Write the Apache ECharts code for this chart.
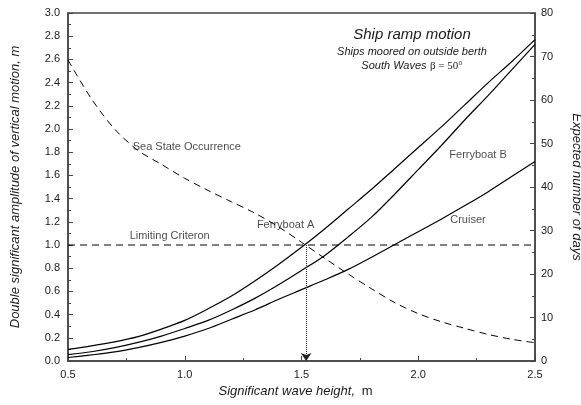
<!DOCTYPE html>
<html>
<head>
<meta charset="utf-8">
<script src="https://cdn.jsdelivr.net/npm/echarts@6/dist/echarts.min.js"></script>
<style>
  html, body { margin: 0; padding: 0; background: #fff; }
  #chart { width: 581px; height: 405px; }
</style>
</head>
<body>
<div id="chart"></div>
<script>
// significant wave height, m
const waveHeight = [0.5, 0.6, 0.7, 0.8, 0.9, 1.0, 1.1, 1.2, 1.3, 1.4, 1.5,
  1.6, 1.7, 1.8, 1.9, 2.0, 2.1, 2.2, 2.3, 2.4, 2.5];

// double significant amplitude of vertical motion, m
const ferryboatA = [0.10, 0.13, 0.165, 0.21, 0.275, 0.35, 0.45, 0.56, 0.69, 0.83, 0.98,
  1.14, 1.31, 1.48, 1.66, 1.84, 2.02, 2.21, 2.40, 2.58, 2.77];
const ferryboatB = [0.055, 0.08, 0.115, 0.16, 0.215, 0.28, 0.35, 0.44, 0.54, 0.655, 0.78,
  0.91, 1.07, 1.24, 1.44, 1.65, 1.86, 2.08, 2.29, 2.51, 2.73];
const cruiser = [0.03, 0.052, 0.078, 0.115, 0.16, 0.215, 0.28, 0.36, 0.44, 0.53, 0.615,
  0.70, 0.79, 0.895, 1.005, 1.115, 1.225, 1.34, 1.46, 1.59, 1.72];

// expected number of days (right axis)
const seaStateDays = [69.2, 60.3, 53.3, 48.4, 45.2, 42.0, 39.2, 36.6, 34.0, 30.9, 27.3,
  23.6, 20.0, 16.6, 13.4, 10.9, 9.0, 7.5, 6.1, 5.0, 4.2];

const limitingCriterion = 1.0;
const limitWaveHeight = 1.52;

const pairs = (ys) => waveHeight.map((x, i) => [x, ys[i]]);

const chart = echarts.init(document.getElementById('chart'));

const font = 'Liberation Sans, Arial, sans-serif';
const ink = '#1a1a1a';

const solid = { color: '#000', width: 1.2 };
const dashed = { color: '#000', width: 1, type: [7, 5] };

const tickStyle = () => ({
  axisLine: { show: true, lineStyle: { color: '#444', width: 1.5 } },
  axisTick: { show: true, inside: true, length: 5, lineStyle: { color: '#444' } },
  minorTick: { show: true, splitNumber: 2, length: 3, lineStyle: { color: '#444' } },
  splitLine: { show: false },
  minorSplitLine: { show: false }
});

chart.setOption({
  animation: false,
  textStyle: { fontFamily: font },
  grid: {
    left: 68, right: 46, top: 13, bottom: 44,
    outerBoundsMode: 'none',
    show: true, borderColor: '#444', borderWidth: 1.5
  },
  graphic: [
    {
      type: 'text', x: 412, y: 35,
      style: {
        text: 'Ship ramp motion', align: 'center', verticalAlign: 'middle',
        font: 'italic 15px ' + font, fill: ink
      }
    },
    {
      type: 'text', x: 412, y: 52,
      style: {
        text: 'Ships moored on outside berth', align: 'center', verticalAlign: 'middle',
        font: 'italic 11px ' + font, fill: ink
      }
    },
    {
      type: 'text', x: 412, y: 66,
      style: {
        text: '{i|South Waves} {s|β = 50°}', align: 'center', verticalAlign: 'middle',
        fill: ink,
        rich: {
          i: { fontStyle: 'italic', fontSize: 11, fontFamily: font },
          s: { fontSize: 11, fontFamily: 'Liberation Serif, Times New Roman, serif' }
        }
      }
    }
  ],
  xAxis: Object.assign({
    type: 'value', min: 0.5, max: 2.5, interval: 0.5,
    axisLabel: {
      color: ink, fontSize: 11, margin: 8,
      formatter: (v) => v.toFixed(1)
    },
    name: '{i|Significant wave height,}  {n|m}',
    nameLocation: 'middle', nameGap: 24,
    nameTextStyle: {
      color: ink, padding: [0, 12, 0, 0],
      rich: {
        i: { fontStyle: 'italic', fontSize: 13, fontFamily: font, color: ink },
        n: { fontSize: 13, fontFamily: font, color: ink }
      }
    }
  }, tickStyle()),
  yAxis: [
    Object.assign({
      type: 'value', min: 0, max: 3, interval: 0.2, position: 'left',
      axisLabel: {
        color: ink, fontSize: 11, margin: 8,
        formatter: (v) => v.toFixed(1)
      },
      name: 'Double significant amplitude of vertical motion, m',
      nameLocation: 'middle', nameGap: 46, nameRotate: 90,
      nameTextStyle: { color: ink, fontSize: 13, fontStyle: 'italic' }
    }, tickStyle()),
    Object.assign({
      type: 'value', min: 0, max: 80, interval: 10, position: 'right',
      axisLabel: { color: ink, fontSize: 11, margin: 6 },
      name: 'Expected number of days',
      nameLocation: 'middle', nameGap: 35, nameRotate: -90,
      nameTextStyle: { color: ink, fontSize: 13, fontStyle: 'italic' }
    }, tickStyle())
  ],
  series: [
    {
      name: 'Ferryboat A', type: 'line', data: pairs(ferryboatA),
      smooth: 0.3, showSymbol: false, lineStyle: solid, silent: true
    },
    {
      name: 'Ferryboat B', type: 'line', data: pairs(ferryboatB),
      smooth: 0.3, showSymbol: false, lineStyle: solid, silent: true
    },
    {
      name: 'Cruiser', type: 'line', data: pairs(cruiser),
      smooth: 0.3, showSymbol: false, lineStyle: solid, silent: true
    },
    {
      name: 'Sea State Occurrence', type: 'line', yAxisIndex: 1,
      data: pairs(seaStateDays),
      smooth: 0.3, showSymbol: false, lineStyle: dashed, silent: true
    },
    {
      name: 'Limiting Criteron', type: 'line',
      data: [[waveHeight[0], limitingCriterion], [waveHeight[waveHeight.length - 1], limitingCriterion]],
      showSymbol: false, lineStyle: dashed, silent: true,
      markLine: {
        silent: true, animation: false,
        symbol: ['none', 'arrow'], symbolSize: 8,
        label: { show: false },
        lineStyle: { color: '#222', width: 1, type: 'dotted' },
        emphasis: { disabled: true },
        data: [[{ coord: [limitWaveHeight, limitingCriterion] }, { coord: [limitWaveHeight, 0] }]]
      }
    },
    {
      name: 'labels', type: 'scatter', symbolSize: 0, silent: true,
      label: {
        show: true, position: 'right', distance: 0,
        formatter: '{b}', color: ink, fontSize: 11, fontFamily: font
      },
      data: [
        { name: 'Sea State Occurrence', value: [0.777, 1.845] },
        { name: 'Limiting Criteron', value: [0.764, 1.078] },
        { name: 'Ferryboat A', value: [1.309, 1.172] },
        { name: 'Ferryboat B', value: [2.133, 1.776] },
        { name: 'Cruiser', value: [2.137, 1.216] }
      ]
    }
  ]
});
</script>
</body>
</html>
